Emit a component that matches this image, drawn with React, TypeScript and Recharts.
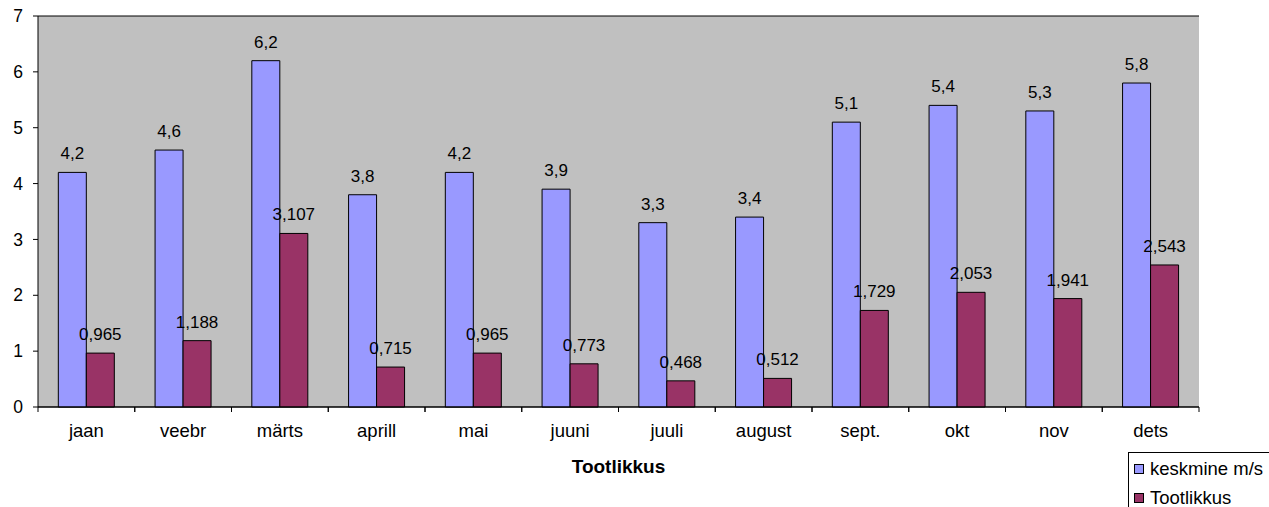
import React from "react";
import { BarChart, Bar, XAxis, YAxis, CartesianGrid, LabelList } from "recharts";

const months = ["jaan", "veebr", "märts", "aprill", "mai", "juuni", "juuli", "august", "sept.", "okt", "nov", "dets"];
const speed = [4.2, 4.6, 6.2, 3.8, 4.2, 3.9, 3.3, 3.4, 5.1, 5.4, 5.3, 5.8];
const output = [0.965, 1.188, 3.107, 0.715, 0.965, 0.773, 0.468, 0.512, 1.729, 2.053, 1.941, 2.543];
const yTicks = [0, 1, 2, 3, 4, 5, 6, 7];

const data = months.map((m, i) => ({ month: m, speed: speed[i], output: output[i] }));

const W = 1269;
const H = 507;
const M = { top: 16, right: 70, bottom: 30, left: 0 };
const YW = 38;
const BAND = (W - YW - M.right) / months.length;
const FONT = "'Liberation Sans', Arial, sans-serif";
const FS = 17;
const FS_TICK = 18.5;

const fmt = (v: any) => String(v).replace(".", ",");

const XTick = (props: any) => {
  const { x, y, payload } = props;
  return (
    <g>
      <line x1={x - BAND / 2} x2={x - BAND / 2} y1={y - 8} y2={y - 3} stroke="#000" />
      <line x1={x + BAND / 2} x2={x + BAND / 2} y1={y - 8} y2={y - 3} stroke="#000" />
      <text x={x} y={y + 22} textAnchor="middle" fontSize={FS_TICK} fontFamily={FONT} fill="#000">
        {payload.value}
      </text>
    </g>
  );
};

const legendItems = [
  { c: "#9999FF", t: "keskmine m/s" },
  { c: "#993366", t: "Tootlikkus" },
];

export default function App() {
  return (
    <div style={{ position: "absolute", left: 0, top: 0, width: W, height: H, background: "#fff", overflow: "hidden" }}>
      <BarChart width={W} height={H} data={data} margin={M} barCategoryGap="21%" barGap={0}>
        <CartesianGrid fill="#C0C0C0" stroke="#000" vertical={false} strokeOpacity={1} />
        <XAxis
          dataKey="month"
          tick={<XTick />}
          tickLine={false}
          axisLine={{ stroke: "#000" }}
          interval={0}
          height={70}
          label={{
            value: "Tootlikkus",
            position: "insideBottom",
            offset: 4,
            style: { fontFamily: FONT, fontSize: 19, fontWeight: "bold", fill: "#000" },
          }}
        />
        <YAxis
          yAxisId="l"
          domain={[0, 7]}
          ticks={yTicks}
          width={YW}
          tick={{ fontFamily: FONT, fontSize: 17.5, fill: "#000" }}
          tickLine={{ stroke: "#000" }}
          tickSize={5}
          tickMargin={10}
          axisLine={{ stroke: "#000" }}
          interval={0}
        />
        <YAxis yAxisId="r" orientation="right" width={0} domain={[0, 7]} tick={false} tickLine={false} axisLine={{ stroke: "#808080" }} />
        <Bar yAxisId="l" dataKey="speed" name="keskmine m/s" fill="#9999FF" stroke="#000" strokeWidth={1} isAnimationActive={false}>
          <LabelList dataKey="speed" position="top" offset={13} formatter={fmt} style={{ fontFamily: FONT, fontSize: FS, fill: "#000" }} />
        </Bar>
        <Bar yAxisId="l" dataKey="output" name="Tootlikkus" fill="#993366" stroke="#000" strokeWidth={1} isAnimationActive={false}>
          <LabelList dataKey="output" position="top" offset={13} formatter={fmt} style={{ fontFamily: FONT, fontSize: FS, fill: "#000" }} />
        </Bar>
      </BarChart>
      <div
        style={{
          position: "absolute",
          left: 1128,
          top: 452,
          width: 160,
          height: 70,
          border: "1px solid #000",
          boxSizing: "border-box",
          fontFamily: FONT,
          fontSize: 18.5,
          background: "#fff",
          paddingLeft: 5,
          paddingTop: 1,
        }}
      >
        {legendItems.map((it) => (
          <div key={it.t} style={{ display: "flex", alignItems: "center", height: 29 }}>
            <span
              style={{
                display: "inline-block",
                width: 8,
                height: 8,
                background: it.c,
                border: "1px solid #000",
                marginRight: 6,
              }}
            />
            <span>{it.t}</span>
          </div>
        ))}
      </div>
    </div>
  );
}
